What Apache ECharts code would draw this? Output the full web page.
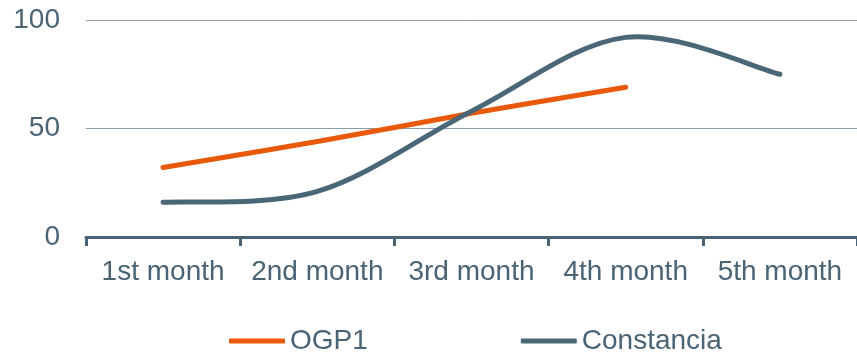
<!DOCTYPE html>
<html>
<head>
<meta charset="utf-8">
<script src="https://cdn.jsdelivr.net/npm/echarts@6/dist/echarts.min.js"></script>
<style>
  html, body { margin: 0; padding: 0; background: #fff; }
  #chart { width: 857px; height: 354px; }
</style>
</head>
<body>
<div id="chart"></div>
<script>
// Monthly progress for the two projects
const months = ['1st month', '2nd month', '3rd month', '4th month', '5th month'];
const ogp1 = [32, 44, 57, 69, null];
const constancia = [16, 21, 58, 92, 75];
const yTicks = { min: 0, max: 100, interval: 50 };

const textColor = '#4A6476';
const fontFamily = '"Liberation Sans", Arial, sans-serif';

// [categoryIndex, value] pairs, skipping empty months
function toPairs(values) {
  const out = [];
  values.forEach(function (v, i) { if (v !== null && v !== undefined) out.push([i, v]); });
  return out;
}

// Smooth curve through every point (Catmull-Rom as cubic Bezier segments),
// positioned through the chart's own axes via api.coord.
function smoothRenderer(pairs, color) {
  return function (params, api) {
    if (params.dataIndex !== 0) return null;
    const pts = pairs.map(function (p) { return api.coord(p); });
    const n = pts.length;
    let d = 'M' + pts[0][0] + ' ' + pts[0][1];
    for (let i = 0; i < n - 1; i++) {
      const p0 = pts[Math.max(i - 1, 0)];
      const p1 = pts[i];
      const p2 = pts[i + 1];
      const p3 = pts[Math.min(i + 2, n - 1)];
      const c1x = p1[0] + (p2[0] - p0[0]) / 6;
      const c1y = p1[1] + (p2[1] - p0[1]) / 6;
      const c2x = p2[0] - (p3[0] - p1[0]) / 6;
      const c2y = p2[1] - (p3[1] - p1[1]) / 6;
      d += ' C' + c1x + ' ' + c1y + ' ' + c2x + ' ' + c2y + ' ' + p2[0] + ' ' + p2[1];
    }
    return {
      type: 'path',
      shape: { pathData: d },
      style: {
        fill: null,
        stroke: color,
        lineWidth: 5,
        lineCap: 'round',
        lineJoin: 'round'
      }
    };
  };
}

const ogp1Pairs = toPairs(ogp1);
const constanciaPairs = toPairs(constancia);
const orange = '#E8590C';
const slate = '#4A6778';

const chart = echarts.init(document.getElementById('chart'), null, { renderer: 'canvas' });
chart.setOption({
  animation: false,
  grid: { left: 86, right: 0, top: 20, bottom: 117 },
  legend: {
    left: 229,
    top: 327,
    padding: 0,
    itemGap: 153,
    itemWidth: 56,
    itemHeight: 5,
    icon: 'roundRect',
    textStyle: { color: textColor, fontSize: 28, fontFamily: fontFamily },
    data: ['OGP1', 'Constancia']
  },
  xAxis: {
    type: 'category',
    data: months,
    boundaryGap: true,
    axisLine: { lineStyle: { color: '#4A6476', width: 3 } },
    axisTick: { show: true, length: 9, lineStyle: { color: '#4A6476', width: 3 } },
    axisLabel: { color: textColor, fontSize: 28, fontFamily: fontFamily, margin: 21, interval: 0 }
  },
  yAxis: {
    type: 'value',
    min: yTicks.min,
    max: yTicks.max,
    interval: yTicks.interval,
    axisLine: { show: false },
    axisTick: { show: false },
    axisLabel: { color: textColor, fontSize: 28, fontFamily: fontFamily, margin: 26 },
    splitLine: { lineStyle: { color: '#8A9CAA', width: 1 } }
  },
  series: [
    {
      name: 'OGP1',
      type: 'custom',
      data: ogp1Pairs,
      encode: { x: 0, y: 1 },
      color: orange,
      itemStyle: { color: orange },
      renderItem: smoothRenderer(ogp1Pairs, orange)
    },
    {
      name: 'Constancia',
      type: 'custom',
      data: constanciaPairs,
      encode: { x: 0, y: 1 },
      color: slate,
      itemStyle: { color: slate },
      renderItem: smoothRenderer(constanciaPairs, slate)
    }
  ]
});
</script>
</body>
</html>
